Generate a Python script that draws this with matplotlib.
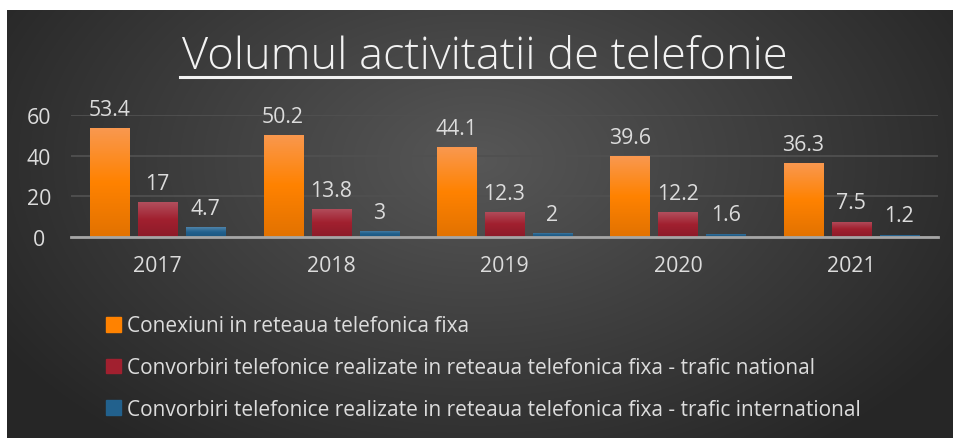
import numpy as np
import matplotlib
matplotlib.use("Agg")
from matplotlib import pyplot
from matplotlib.colors import LinearSegmentedColormap

pyplot.rcParams['font.family'] = ['Open Sans', 'DejaVu Sans']

years = ['2017', '2018', '2019', '2020', '2021']
series_names = ['Conexiuni in reteaua telefonica fixa',
                'Convorbiri telefonice realizate in reteaua telefonica fixa - trafic national',
                'Convorbiri telefonice realizate in reteaua telefonica fixa - trafic international']
conexiuni = [53.4, 50.2, 44.1, 39.6, 36.3]
national = [17, 13.8, 12.3, 12.2, 7.5]
international = [4.7, 3, 2, 1.6, 1.2]
y_ticks = [0, 20, 40, 60]

# gradients top -> middle -> bottom for each series
grads = [['#F9984F', '#FF8200', '#E27200'],
         ['#B24F5D', '#A1202F', '#8C1B29'],
         ['#4F84AA', '#22618D', '#1B5680']]
text_col = '#DCDCDC'
fs = 15.3

W, H = 954, 439
fig = pyplot.figure(figsize=(W / 100, H / 100), dpi=100)
fig.patch.set_facecolor('white')

# dark radial background
bg = fig.add_axes([7 / W, 0, 1 - 7 / W, 1 - 11 / H])
bg.set_axis_off()
yy, xx = np.mgrid[0:428, 0:947]
r = np.sqrt(((xx - 470) / 560.0) ** 2 + ((yy - 150) / 360.0) ** 2)
r = np.clip(r, 0, 1)
shade = 0.34 - 0.19 * r
img = np.dstack([shade, shade, shade])
bg.imshow(img, aspect='auto', extent=[0, 1, 0, 1], origin='upper')
bg.set_xlim(0, 1)
bg.set_ylim(0, 1)

ax = fig.add_axes([71 / W, 1 - 238 / H, (938 - 71) / W, (238 - 116) / H])
ax.patch.set_alpha(0)
x = np.arange(len(years))
bw = 0.225
gap = 0.052
all_series = [conexiuni, national, international]
for i, vals in enumerate(all_series):
    offs = (i - 1) * (bw + gap)
    bars = ax.bar(x + offs, vals, width=bw, color=grads[i][1], zorder=3)
    cmap = LinearSegmentedColormap.from_list('g%d' % i, grads[i])
    grad = np.linspace(0, 1, 100).reshape(-1, 1)
    for b, v in zip(bars, vals):
        im = ax.imshow(grad, cmap=cmap, aspect='auto', zorder=4,
                       extent=[b.get_x(), b.get_x() + bw, 0, v], origin='upper')
        im.set_clip_path(b)
        ax.annotate(f'{v:g}', (b.get_x() + bw / 2, v), xytext=(0, 6),
                    textcoords='offset points', ha='center', va='bottom',
                    color=text_col, fontsize=fs, annotation_clip=False, zorder=5)

ax.set_xlim(-0.5, len(years) - 0.5)
ax.set_ylim(0, 60)
ax.set_yticks(y_ticks)
ax.set_xticks(x)
ax.set_xticklabels(years)
ax.tick_params(length=0, colors=text_col, labelsize=fs)
ax.tick_params(axis='x', pad=13)
ax.tick_params(axis='y', pad=23)
for t in ax.get_yticklabels():
    t.set_ha('center')
for s in ['top', 'right', 'left']:
    ax.spines[s].set_visible(False)
ax.spines['bottom'].set_color('#A6A6A6')
ax.spines['bottom'].set_linewidth(2)
ax.spines['bottom'].set_zorder(6)
ax.yaxis.grid(True, color='#505050', linewidth=1.3, zorder=0)
ax.set_axisbelow(True)

# title with underline
title = fig.text(485 / W, 1 - 58 / H, 'Volumul activitatii de telefonie', ha='center', va='center',
                 color='#F2F2F2', fontsize=32.6, fontweight='light')
fig.canvas.draw()
bb = title.get_window_extent()
fig.add_artist(pyplot.Line2D([(bb.x0 - 2) / W, (bb.x1 + 2) / W], [1 - 78 / H, 1 - 78 / H],
                             color='#F2F2F2', linewidth=2.2))

# legend
handles = [pyplot.Rectangle((0, 0), 1, 1, color=g[1]) for g in grads]
leg = fig.legend(handles, series_names, loc='upper left', bbox_to_anchor=(96 / W, 1 - 306 / H),
                 frameon=False, fontsize=15.0, labelcolor=text_col, handlelength=0.72,
                 handleheight=0.72, handletextpad=0.25, labelspacing=1.0, borderpad=0)

fig.savefig('out.png', dpi=100, facecolor='white')
